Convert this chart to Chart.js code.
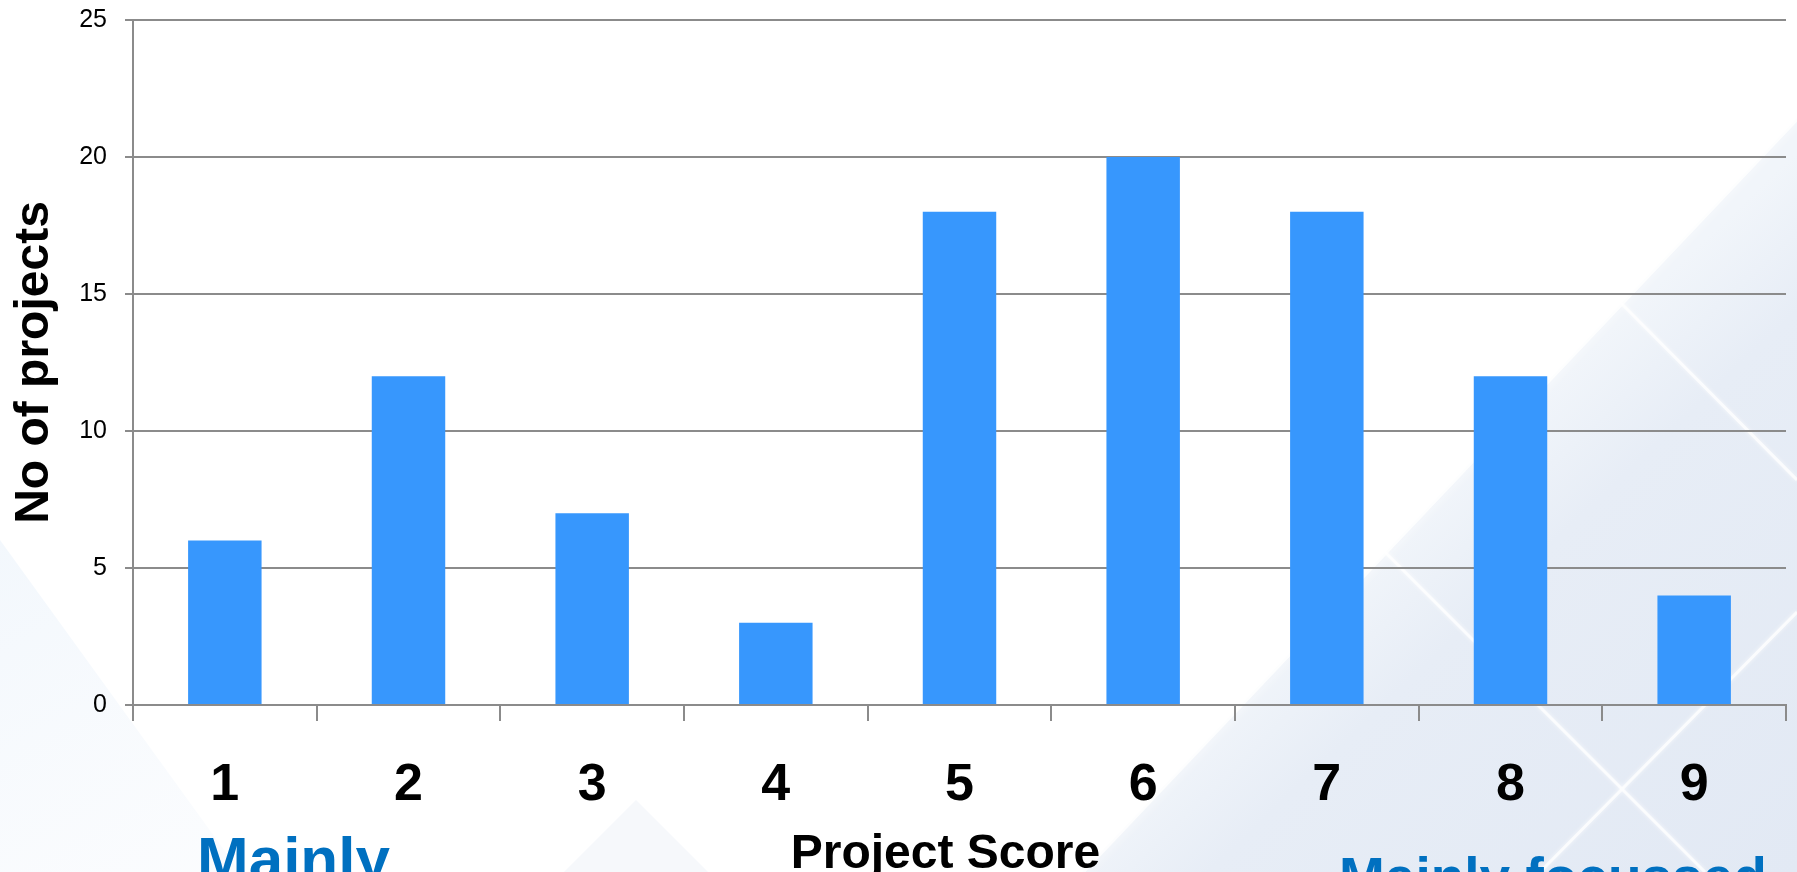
<!DOCTYPE html>
<html>
<head>
<meta charset="utf-8">
<script src="https://cdn.jsdelivr.net/npm/chart.js@4.4.1/dist/chart.umd.min.js"></script>
<style>
  html, body { margin: 0; padding: 0; background: #ffffff; }
  #wrap { width: 1797px; height: 872px; position: relative; overflow: hidden; }
  canvas { display: block; }
</style>
</head>
<body>
<div id="wrap"><canvas id="chart" width="1797" height="872"></canvas></div>
<script>
// Project score distribution
const scoreLabels = ['1', '2', '3', '4', '5', '6', '7', '8', '9'];
const projectCounts = [6, 12, 7, 3, 18, 20, 18, 12, 4];
const countAxisMax = 25;
const countAxisStep = 5;

const FONT = "'Liberation Sans', Arial, Helvetica, sans-serif";
Chart.defaults.font.family = FONT;

const GRID = '#8b8b8b';
const BAR = '#3797fd';
const NOTE = '#0070c0';

// Slide backdrop: pale blue facets with thin white diagonal strokes
const backdrop = {
  id: 'backdrop',
  beforeDraw(chart) {
    const ctx = chart.ctx;
    const W = chart.width, H = chart.height;
    ctx.save();
    ctx.fillStyle = '#ffffff';
    ctx.fillRect(0, 0, W, H);

    // faint wedge in the lower-left corner
    let g = ctx.createLinearGradient(0, 560, 180, 872);
    g.addColorStop(0, 'rgba(240,246,252,0.8)');
    g.addColorStop(1, 'rgba(246,249,253,0.5)');
    ctx.fillStyle = g;
    ctx.beginPath();
    ctx.moveTo(0, 540); ctx.lineTo(240, 872); ctx.lineTo(0, 872); ctx.closePath();
    ctx.fill();

    // faint peak below the axis
    ctx.fillStyle = 'rgba(242,245,250,0.7)';
    ctx.beginPath();
    ctx.moveTo(636, 800); ctx.lineTo(708, 872); ctx.lineTo(564, 872); ctx.closePath();
    ctx.fill();

    // large pale-blue facet on the right, lighter near its edge
    g = ctx.createLinearGradient(1437, 495, 1797, 872);
    g.addColorStop(0, '#f1f5fa');
    g.addColorStop(0.22, '#e7edf6');
    g.addColorStop(1, '#e2e9f4');
    ctx.fillStyle = g;
    ctx.beginPath();
    ctx.moveTo(1797, 118); ctx.lineTo(1797, 872); ctx.lineTo(1082, 872); ctx.closePath();
    ctx.fill();

    // soft light edge along the facet
    ctx.strokeStyle = 'rgba(255,255,255,0.8)';
    ctx.lineWidth = 5;
    ctx.shadowColor = 'rgba(255,255,255,1)';
    ctx.shadowBlur = 12;
    ctx.beginPath();
    ctx.moveTo(1797, 118); ctx.lineTo(1082, 872);
    ctx.stroke();

    // thin white strokes
    ctx.shadowBlur = 4;
    ctx.lineWidth = 3;
    ctx.strokeStyle = 'rgba(255,255,255,0.75)';
    ctx.beginPath();
    ctx.moveTo(1381, 548); ctx.lineTo(1705, 872);
    ctx.moveTo(1540, 872); ctx.lineTo(1797, 612);
    ctx.moveTo(1618, 300); ctx.lineTo(1797, 480);
    ctx.stroke();
    ctx.restore();
  }
};

// Blue captions along the bottom edge
const captions = {
  id: 'captions',
  afterDraw(chart) {
    const ctx = chart.ctx;
    ctx.save();
    ctx.fillStyle = NOTE;
    ctx.textAlign = 'left';
    ctx.textBaseline = 'alphabetic';
    ctx.font = 'bold 62px ' + FONT;
    ctx.fillText('Mainly', 197, 880);
    ctx.font = 'bold 55px ' + FONT;
    ctx.fillText('Mainly focussed', 1339, 896);
    ctx.restore();
  }
};

new Chart(document.getElementById('chart'), {
  type: 'bar',
  data: {
    labels: scoreLabels,
    datasets: [{
      data: projectCounts,
      backgroundColor: BAR,
      borderWidth: 0,
      barPercentage: 0.4,
      categoryPercentage: 1.0
    }]
  },
  options: {
    responsive: false,
    animation: false,
    devicePixelRatio: 1,
    layout: { padding: { top: 20, right: 11, bottom: 0, left: 0 } },
    plugins: {
      legend: { display: false },
      tooltip: { enabled: false }
    },
    scales: {
      x: {
        grid: {
          display: true,
          drawOnChartArea: false,
          drawTicks: true,
          tickLength: 16,
          color: GRID,
          lineWidth: 2,
          offset: true
        },
        border: { display: true, color: GRID, width: 2 },
        ticks: {
          color: '#000',
          font: { size: 52, weight: 'bold' },
          padding: 33,
          maxRotation: 0,
          autoSkip: false
        },
        title: {
          display: true,
          text: 'Project Score',
          color: '#000',
          font: { size: 48, weight: 'bold', lineHeight: 0.6 },
          padding: { top: 0, bottom: 3 }
        },
        afterFit(scale) {
          scale.height = 167;
          // axis caption sits a little left of the plot centre
          if (!scale._titleShifted) {
            const drawTitle = scale.drawTitle;
            scale.drawTitle = function () {
              this.ctx.save();
              this.ctx.translate(-14, 0);
              drawTitle.call(this);
              this.ctx.restore();
            };
            scale._titleShifted = true;
          }
        }
      },
      y: {
        min: 0,
        max: countAxisMax,
        ticks: {
          stepSize: countAxisStep,
          color: '#000',
          font: { size: 25 },
          padding: 18
        },
        grid: { color: GRID, lineWidth: 2, tickLength: 8 },
        border: { display: true, color: GRID, width: 2 },
        title: {
          display: true,
          text: 'No of projects',
          color: '#000',
          font: { size: 48, weight: 'bold', lineHeight: 1.2 },
          padding: { top: 6, bottom: 0 }
        },
        afterFit(scale) {
          scale.width = 133;
          // plot top is set by the layout padding alone
          scale.paddingTop = 0;
          scale.paddingBottom = 0;
        }
      }
    }
  },
  plugins: [backdrop, captions]
});
</script>
</body>
</html>
